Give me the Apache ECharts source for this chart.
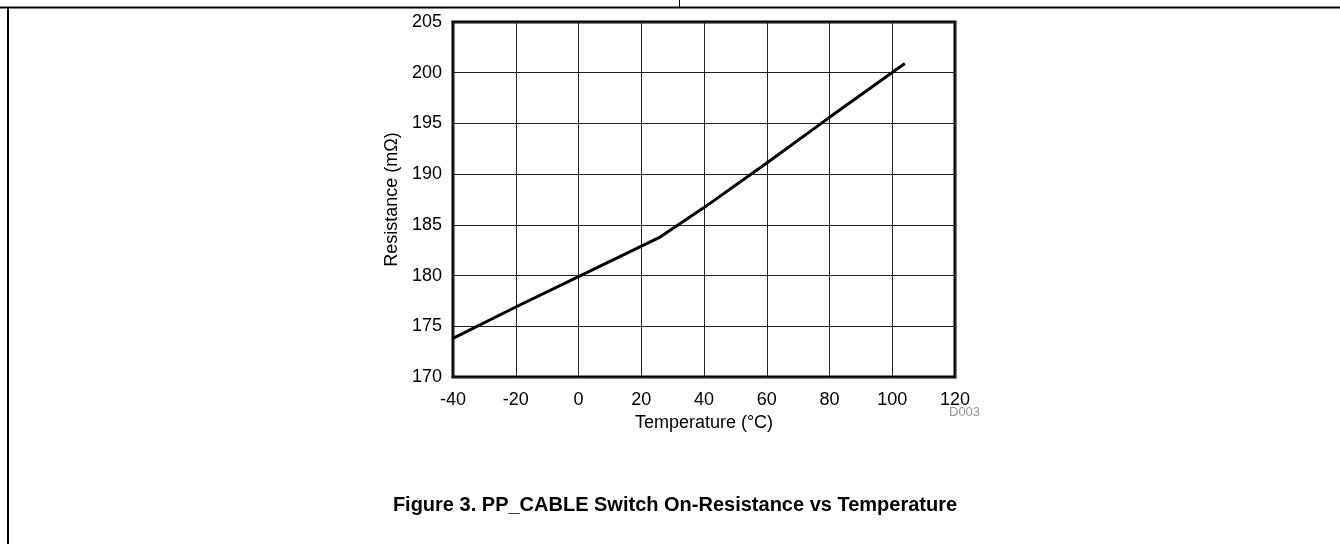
<!DOCTYPE html>
<html>
<head>
<meta charset="utf-8">
<script src="https://cdn.jsdelivr.net/npm/echarts@6/dist/echarts.min.js"></script>
<style>
  html, body { margin: 0; padding: 0; background: #fff; }
  #chart { width: 1340px; height: 544px; }
</style>
</head>
<body>
<div id="chart"></div>
<script>
// temperature (°C) and on-resistance (mOhm)
var temps = [-40, -20, 0, 26, 40, 60, 80, 104];
var resistance = [173.8, 176.9, 179.9, 183.8, 186.7, 191.1, 195.6, 200.9];
var xTicks = [-40, -20, 0, 20, 40, 60, 80, 100, 120];
var yTicks = [170, 175, 180, 185, 190, 195, 200, 205];

var chart = echarts.init(document.getElementById('chart'));
var font = "'Liberation Sans', Arial, sans-serif";

chart.setOption({
  animation: false,
  title: {
    text: 'Figure 3. PP_CABLE Switch On-Resistance vs Temperature',
    left: 670,
    top: 490,
    textAlign: 'center',
    textStyle: { fontFamily: font, fontSize: 20, fontWeight: 'bold', color: '#000' }
  },
  grid: {
    left: 453, top: 22, right: 385, bottom: 167,
    show: true, borderColor: '#000', borderWidth: 3
  },
  xAxis: {
    type: 'value',
    min: xTicks[0], max: xTicks[xTicks.length - 1], interval: 20,
    name: 'Temperature (°C)',
    nameLocation: 'middle',
    nameGap: 35,
    nameTextStyle: { fontFamily: font, fontSize: 18, color: '#000' },
    axisLine: { show: false },
    axisTick: { show: false },
    axisLabel: { fontFamily: font, fontSize: 18, color: '#000', margin: 14 },
    splitLine: { lineStyle: { color: '#222', width: 1 } }
  },
  yAxis: {
    type: 'value',
    min: yTicks[0], max: yTicks[yTicks.length - 1], interval: 5,
    name: 'Resistance (mΩ)',
    nameLocation: 'middle',
    nameGap: 52,
    nameTextStyle: { fontFamily: font, fontSize: 18, color: '#000' },
    axisLine: { show: false },
    axisTick: { show: false },
    axisLabel: { fontFamily: font, fontSize: 18, color: '#000', margin: 11 },
    splitLine: { lineStyle: { color: '#222', width: 1 } }
  },
  graphic: [
    { type: 'line', shape: { x1: 0, y1: 7.5, x2: 1340, y2: 7.5 }, style: { stroke: '#000', lineWidth: 2 } },
    { type: 'line', shape: { x1: 8, y1: 7, x2: 8, y2: 544 }, style: { stroke: '#000', lineWidth: 2 } },
    { type: 'line', shape: { x1: 679.5, y1: 0, x2: 679.5, y2: 7 }, style: { stroke: '#000', lineWidth: 1 } },
    { type: 'text', left: 949, top: 406, style: { text: 'D003', fontFamily: font, fontSize: 13, fill: '#999' } }
  ],
  series: [{
    type: 'line',
    data: temps.map(function (t, i) { return [t, resistance[i]]; }),
    showSymbol: false,
    lineStyle: { color: '#000', width: 3 }
  }]
});
</script>
</body>
</html>
